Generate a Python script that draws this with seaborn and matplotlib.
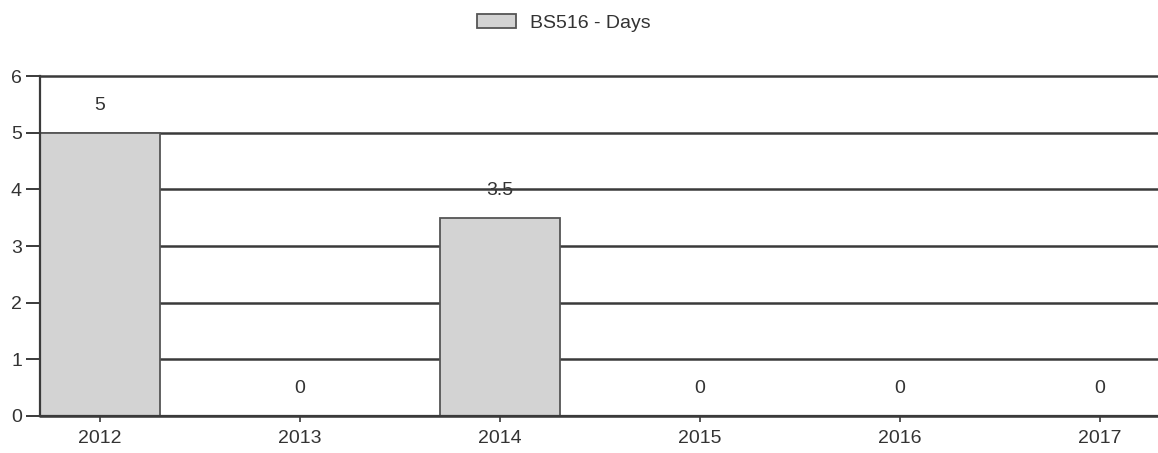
import matplotlib
matplotlib.use("Agg")
import matplotlib.pyplot as plt
import seaborn as sns
import pandas as pd

years = ["2012", "2013", "2014", "2015", "2016", "2017"]
days = [5, 0, 3.5, 0, 0, 0]
series_name = "BS516 - Days"

sns.set_style("white")
plt.rcParams["font.family"] = ["Liberation Sans", "DejaVu Sans"]

df = pd.DataFrame({"Year": years, "Days": days, "Series": series_name})

fig = plt.figure(figsize=(11.58, 4.53), dpi=100)
ax = fig.add_axes([40 / 1158, 37 / 453, 1 - 40 / 1158, 340 / 453])

sns.barplot(data=df, x="Year", y="Days", hue="Series", ax=ax,
            palette=["#d3d3d3"], edgecolor="#555555", linewidth=1.3,
            width=0.6, zorder=2, legend=True)

ax.set_xlim(-0.3, 5.29)
ax.set_ylim(0, 6)
ax.set_yticks(range(0, 7))
ax.grid(axis="y", color="#3a3a3a", linewidth=1.8, zorder=1)
for gl in ax.get_ygridlines():
    gl.set_clip_on(False)
ax.set_axisbelow(True)
ax.set_xlabel("")
ax.set_ylabel("")

for side in ("top", "right"):
    ax.spines[side].set_visible(False)
for side in ("left", "bottom"):
    ax.spines[side].set_color("#3a3a3a")
    ax.spines[side].set_linewidth(1.6)

ax.tick_params(axis="y", which="both", left=True, length=10, width=1.4,
               color="#3a3a3a", labelsize=14, labelcolor="#333333", pad=3)
ax.tick_params(axis="x", which="both", bottom=True, length=4, width=1.2,
               color="#3a3a3a", labelsize=14, labelcolor="#333333", pad=6)

for i, v in enumerate(days):
    label = f"{v:g}"
    ax.text(i, v + 0.48, label, ha="center", va="center", fontsize=14,
            color="#333333", zorder=0.5)

leg = ax.legend(loc="center", bbox_to_anchor=((564 - 40) / 1118, (453 - 23 - 37) / 340),
                frameon=False, fontsize=14, handlelength=2.0, handleheight=0.75,
                handletextpad=0.75, borderpad=0)
for t in leg.get_texts():
    t.set_color("#333333")

fig.savefig("out.png", dpi=100)
